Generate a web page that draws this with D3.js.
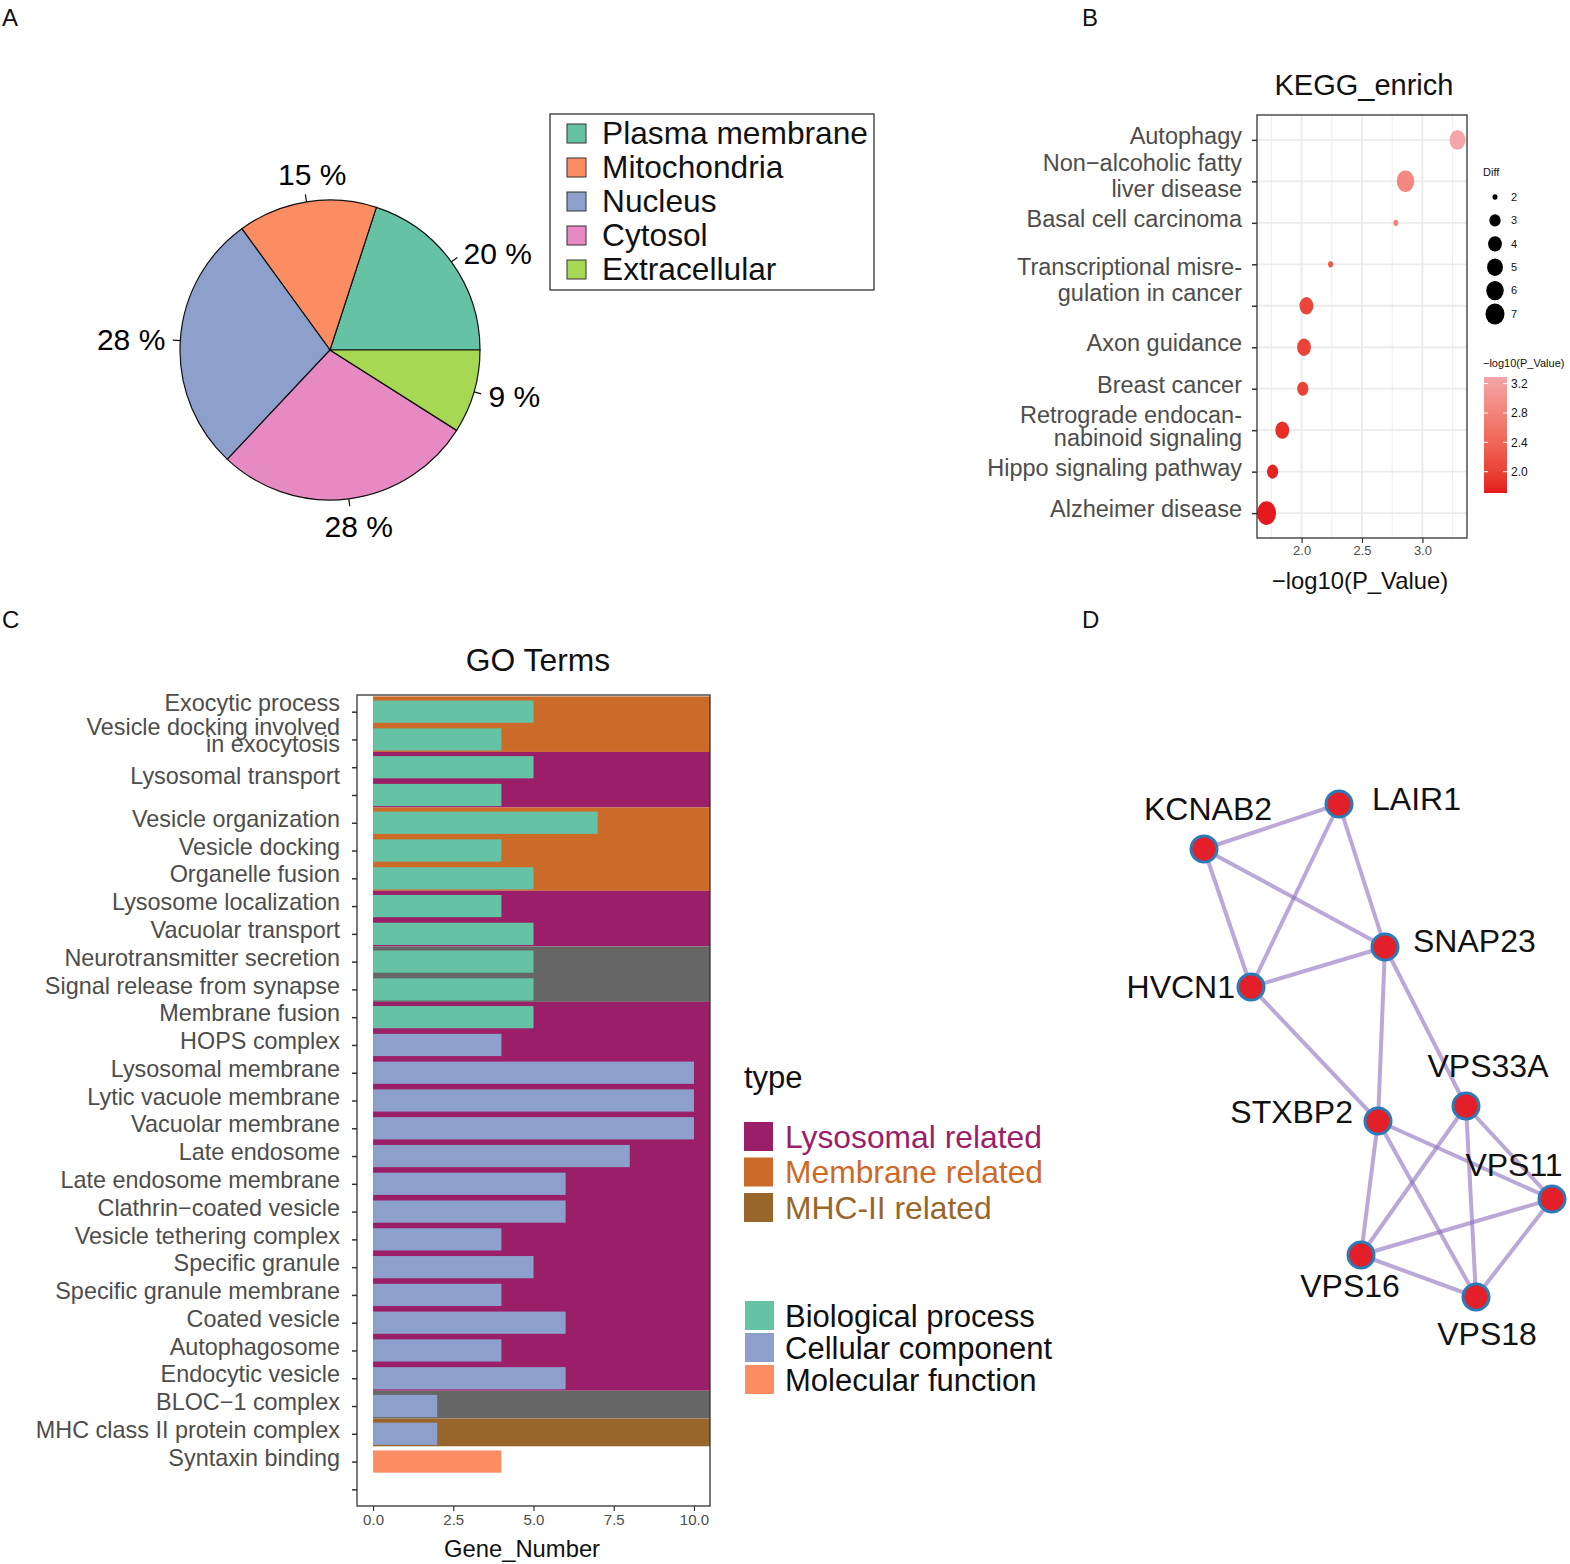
<!DOCTYPE html>
<html>
<head>
<meta charset="utf-8">
<script src="https://cdn.jsdelivr.net/npm/d3@7/dist/d3.min.js"></script>
<style>
  body { margin: 0; background: #fff; }
  text { font-family: "Liberation Sans", Arial, sans-serif; }
</style>
</head>
<body>
<div id="chart"></div>
<script>
/* ---- data: panel A (subcellular location) ---- */
const locNames = ["Plasma membrane", "Mitochondria", "Nucleus", "Cytosol", "Extracellular"];
const locPct = [20, 15, 28, 28, 9];
const locColors = ["#66C2A5", "#FC8D62", "#8DA0CB", "#E78AC3", "#A6D854"];

/* ---- data: panel B (KEGG) ---- */
const keggTerms = [
  ["Autophagy"],
  ["Non\u2212alcoholic fatty", "liver disease"],
  ["Basal cell carcinoma"],
  ["Transcriptional misre-", "gulation in cancer"],
  [],
  ["Axon guidance"],
  ["Breast cancer"],
  ["Retrograde endocan-", "nabinoid signaling"],
  ["Hippo signaling pathway"],
  ["Alzheimer disease"]
];
const keggLogP = [3.29, 2.86, 2.78, 2.24, 2.04, 2.02, 2.01, 1.84, 1.76, 1.71];
const keggDiff = [5, 6, 2, 2, 4, 4, 3, 4, 3, 7];
const keggXTicks = [2.0, 2.5, 3.0];
const diffLegend = [2, 3, 4, 5, 6, 7];
const colorLegendTicks = [2.0, 2.4, 2.8, 3.2];

/* ---- data: panel C (GO terms) ---- */
const goTerms = [
  ["Exocytic process"], ["Vesicle docking involved", "in exocytosis"], ["Lysosomal transport"], [],
  ["Vesicle organization"], ["Vesicle docking"], ["Organelle fusion"], ["Lysosome localization"],
  ["Vacuolar transport"], ["Neurotransmitter secretion"], ["Signal release from synapse"],
  ["Membrane fusion"], ["HOPS complex"], ["Lysosomal membrane"], ["Lytic vacuole membrane"],
  ["Vacuolar membrane"], ["Late endosome"], ["Late endosome membrane"], ["Clathrin\u2212coated vesicle"],
  ["Vesicle tethering complex"], ["Specific granule"], ["Specific granule membrane"],
  ["Coated vesicle"], ["Autophagosome"], ["Endocytic vesicle"], ["BLOC\u22121 complex"],
  ["MHC class II protein complex"], ["Syntaxin binding"], []
];
const goCounts = [5, 4, 5, 4, 7, 4, 5, 4, 5, 5, 5, 5, 4, 10, 10, 10, 8, 6, 6, 4, 5, 4, 6, 4, 6, 2, 2, 4, null];
const goOntology = ["BP", "BP", "BP", "BP", "BP", "BP", "BP", "BP", "BP", "BP", "BP", "BP",
  "CC", "CC", "CC", "CC", "CC", "CC", "CC", "CC", "CC", "CC", "CC", "CC", "CC", "CC", "CC", "MF", null];
const goGroup = ["Membrane", "Membrane", "Lysosomal", "Lysosomal", "Membrane", "Membrane", "Membrane",
  "Lysosomal", "Lysosomal", "Other", "Other", "Lysosomal", "Lysosomal", "Lysosomal", "Lysosomal",
  "Lysosomal", "Lysosomal", "Lysosomal", "Lysosomal", "Lysosomal", "Lysosomal", "Lysosomal",
  "Lysosomal", "Lysosomal", "Lysosomal", "Other", "MHC", null, null];
const goXTicks = [0, 2.5, 5, 7.5, 10];
const groupKeys = ["Lysosomal", "Membrane", "MHC"];
const groupLabels = ["Lysosomal related", "Membrane related", "MHC-II related"];
const ontoKeys = ["BP", "CC", "MF"];
const ontoLabels = ["Biological process", "Cellular component", "Molecular function"];

/* ---- data: panel D (network layout) ---- */
const netNodes = ["KCNAB2", "LAIR1", "SNAP23", "HVCN1", "VPS33A", "STXBP2", "VPS11", "VPS16", "VPS18"];
const netX = [54, 189, 235, 101, 316, 228, 402, 211, 326];
const netY = [89, 44, 187, 227, 346, 361, 439, 495, 537];
const netEdges = [
  ["KCNAB2", "LAIR1"], ["KCNAB2", "SNAP23"], ["KCNAB2", "HVCN1"], ["LAIR1", "HVCN1"],
  ["LAIR1", "SNAP23"], ["HVCN1", "SNAP23"], ["HVCN1", "STXBP2"], ["SNAP23", "STXBP2"],
  ["SNAP23", "VPS33A"], ["STXBP2", "VPS11"], ["STXBP2", "VPS16"], ["STXBP2", "VPS18"],
  ["VPS33A", "VPS16"], ["VPS33A", "VPS18"], ["VPS33A", "VPS11"], ["VPS16", "VPS11"],
  ["VPS16", "VPS18"], ["VPS11", "VPS18"]
];

const W = 1570, H = 1564;
const svg = d3.select("#chart").append("svg").attr("width", W).attr("height", H);
const axisGrey = "#4D4D4D";

/* panel letters */
[["A", 2, 26], ["B", 1082, 26], ["C", 2, 628], ["D", 1082, 628]].forEach(p => {
  svg.append("text").attr("x", p[1]).attr("y", p[2]).text(p[0])
    .attr("font-size", 24).attr("fill", "#111");
});

/* ================= Panel A: pie ================= */
const pieG = svg.append("g").attr("transform", "translate(330,350)");
const R = 150;
const pie = d3.pie().sort(null).value(d => d)
  .startAngle(Math.PI / 2).endAngle(Math.PI / 2 - 2 * Math.PI);
const arcs = pie(locPct);
const arc = d3.arc().innerRadius(0).outerRadius(R);
pieG.selectAll("path.slice").data(arcs).enter().append("path")
  .attr("class", "slice")
  .attr("d", arc)
  .attr("fill", (d, i) => locColors[i])
  .attr("stroke", "#111").attr("stroke-width", 1.2);
arcs.forEach((a, i) => {
  const m = (a.startAngle + a.endAngle) / 2;
  const sx = Math.sin(m), sy = -Math.cos(m);
  pieG.append("line")
    .attr("x1", sx * R).attr("y1", sy * R)
    .attr("x2", sx * R * 1.05).attr("y2", sy * R * 1.05)
    .attr("stroke", "#111").attr("stroke-width", 1.2);
  // like base R pie(): label at 1.1 r, left/right aligned by side
  const ax = sx * R * 1.1, ay = sy * R * 1.1;
  const t = pieG.append("text").text(locPct[i] + " %")
    .attr("font-size", 30).attr("dy", "0.35em");
  if (Math.abs(sx) > 0.5) {
    t.attr("x", ax).attr("y", ay).attr("text-anchor", sx < 0 ? "end" : "start");
  } else {
    t.attr("x", ax + 8).attr("y", ay + sy * 13).attr("text-anchor", "middle");
  }
});

/* pie legend */
const pl = svg.append("g").attr("transform", "translate(550,114)");
pl.append("rect").attr("width", 324).attr("height", 176)
  .attr("fill", "none").attr("stroke", "#333").attr("stroke-width", 1.3);
locNames.forEach((n, i) => {
  const cy = 19 + i * 34;
  pl.append("rect").attr("x", 17).attr("y", cy - 9).attr("width", 19).attr("height", 19)
    .attr("fill", locColors[i]).attr("stroke", "#333").attr("stroke-width", 1);
  pl.append("text").attr("x", 52).attr("y", cy).attr("dy", "0.36em")
    .attr("font-size", 31.7).attr("fill", "#111").text(n);
});

/* ================= Panel B: KEGG dot plot ================= */
const bL = 1257, bR = 1467, bT = 115, bB = 538;
const pExt = d3.extent(keggLogP);
const pPad = (pExt[1] - pExt[0]) * 0.05;
const bx = d3.scaleLinear().domain([pExt[0] - pPad, pExt[1] + pPad]).range([bL, bR]);
const by = d3.scalePoint().domain(d3.range(keggTerms.length)).range([bT, bB]).padding(0.6);
const sizeScale = v => 5 + 14 * Math.sqrt((v - 2) / 5);
const colScale = d3.scaleLinear().domain(pExt).range(["#E41A1C", "#F4A5A8"]).interpolate(d3.interpolateLab);

const bG = svg.append("g");
bG.append("rect").attr("x", bL).attr("y", bT).attr("width", bR - bL).attr("height", bB - bT).attr("fill", "#fff");
// minor grid
const minorX = d3.range(1.75, pExt[1] + pPad, 0.5);
bG.selectAll("line.minx").data(minorX).enter().append("line")
  .attr("x1", d => bx(d)).attr("x2", d => bx(d)).attr("y1", bT).attr("y2", bB)
  .attr("stroke", "#EBEBEB").attr("stroke-width", 0.9);
bG.selectAll("line.majx").data(keggXTicks).enter().append("line")
  .attr("x1", d => bx(d)).attr("x2", d => bx(d)).attr("y1", bT).attr("y2", bB)
  .attr("stroke", "#EBEBEB").attr("stroke-width", 1.8);
bG.selectAll("line.majy").data(by.domain()).enter().append("line")
  .attr("x1", bL).attr("x2", bR).attr("y1", d => by(d)).attr("y2", d => by(d))
  .attr("stroke", "#EBEBEB").attr("stroke-width", 1.8);
// dots
bG.selectAll("ellipse.dot").data(keggLogP).enter().append("ellipse")
  .attr("cx", d => bx(d)).attr("cy", (d, i) => by(i))
  .attr("rx", (d, i) => sizeScale(keggDiff[i]) / 2)
  .attr("ry", (d, i) => sizeScale(keggDiff[i]) / 2 * 1.25)
  .attr("fill", d => colScale(d));
bG.append("rect").attr("x", bL).attr("y", bT).attr("width", bR - bL).attr("height", bB - bT)
  .attr("fill", "none").attr("stroke", "#333").attr("stroke-width", 1.3);
// axes
const byAxis = bG.append("g").attr("transform", `translate(${bL},0)`)
  .call(d3.axisLeft(by).tickSize(5).tickFormat(""));
byAxis.select(".domain").remove();
byAxis.selectAll(".tick line").attr("stroke", "#333").attr("stroke-width", 1.5);
const bxAxis = bG.append("g").attr("transform", `translate(0,${bB})`)
  .call(d3.axisBottom(bx).tickValues(keggXTicks).tickSize(5).tickPadding(3).tickFormat(d3.format(".1f")));
bxAxis.select(".domain").remove();
bxAxis.selectAll(".tick line").attr("stroke", "#333").attr("stroke-width", 1.2);
bxAxis.selectAll(".tick text").attr("font-size", 13).attr("fill", axisGrey)
  .style("font-family", "'Liberation Sans', Arial, sans-serif");
// y labels (multi-line)
const keggAlign = { 1: "bottom", 3: "top" };
keggTerms.forEach((lines, i) => {
  if (!lines.length) return;
  const lh = i === 7 ? 23 : 26, n = lines.length;
  let first;
  if (keggAlign[i] === "bottom") first = by(i) + 7 - (n - 1) * lh;
  else if (keggAlign[i] === "top") first = by(i) + 2;
  else first = by(i) - 4 - (n - 1) * lh / 2;
  const t = bG.append("text").attr("text-anchor", "end").attr("font-size", 23.5).attr("fill", axisGrey);
  lines.forEach((l, k) => {
    t.append("tspan").attr("x", bL - 15).attr("y", first + k * lh).attr("dy", "0.35em").text(l);
  });
});
bG.append("text").attr("x", (bL + bR) / 2 + 2).attr("y", 95).attr("text-anchor", "middle")
  .attr("font-size", 29).attr("fill", "#111").text("KEGG_enrich");
bG.append("text").attr("x", (bL + bR) / 2 - 2).attr("y", 589).attr("text-anchor", "middle")
  .attr("font-size", 23.8).attr("fill", "#111").text("\u2212log10(P_Value)");

// size legend
const sl = svg.append("g");
sl.append("text").attr("x", 1483).attr("y", 176).attr("font-size", 11).attr("fill", "#111").text("Diff");
diffLegend.forEach((v, i) => {
  const cy = 197 + i * 23.4;
  sl.append("ellipse").attr("cx", 1495).attr("cy", cy)
    .attr("rx", sizeScale(v) / 2).attr("ry", sizeScale(v) / 2 * 1.1).attr("fill", "#000");
  sl.append("text").attr("x", 1511).attr("y", cy).attr("dy", "0.35em")
    .attr("font-size", 11).attr("fill", "#111").text(v);
});
// colour legend
const cbT = 377, cbB = 493, cbL = 1484, cbW = 23;
const cy = d3.scaleLinear().domain(pExt).range([cbB, cbT]);
const defs = svg.append("defs");
const grad = defs.append("linearGradient").attr("id", "pgrad")
  .attr("x1", 0).attr("y1", 1).attr("x2", 0).attr("y2", 0);
d3.range(0, 1.001, 0.1).forEach(f => {
  grad.append("stop").attr("offset", f).attr("stop-color", colScale(pExt[0] + f * (pExt[1] - pExt[0])));
});
sl.append("text").attr("x", 1483).attr("y", 367).attr("font-size", 11).attr("fill", "#111").text("\u2212log10(P_Value)");
sl.append("rect").attr("x", cbL).attr("y", cbT).attr("width", cbW).attr("height", cbB - cbT).attr("fill", "url(#pgrad)");
colorLegendTicks.forEach(v => {
  const y = cy(v);
  sl.append("line").attr("x1", cbL).attr("x2", cbL + 4).attr("y1", y).attr("y2", y).attr("stroke", "#fff");
  sl.append("line").attr("x1", cbL + cbW - 4).attr("x2", cbL + cbW).attr("y1", y).attr("y2", y).attr("stroke", "#fff");
  sl.append("text").attr("x", cbL + cbW + 4).attr("y", y).attr("dy", "0.35em")
    .attr("font-size", 12).attr("fill", "#111").text(d3.format(".1f")(v));
});

/* ================= Panel C: GO terms ================= */
const cL = 357, cR = 710, cT = 695, cB = 1506;
const gx = d3.scaleLinear().domain([-0.5, 10.5]).range([cL, cR]);
const gy = d3.scalePoint().domain(d3.range(goTerms.length)).range([cT, cB]).padding(0.6);
const step = gy.step();
const groupColors = { Lysosomal: "#9A1F68", Membrane: "#CC6A28", MHC: "#98662A", Other: "#666666" };
const ontoColors = { BP: "#66C2A5", CC: "#8DA0CB", MF: "#FC8D62" };

const cG = svg.append("g");
// background bands: contiguous runs of the same group
const runs = [];
goGroup.forEach((g, i) => {
  if (!g) return;
  const last = runs[runs.length - 1];
  if (last && last.g === g && last.end === i - 1) last.end = i;
  else runs.push({ g: g, start: i, end: i });
});
cG.selectAll("rect.band").data(runs).enter().append("rect")
  .attr("x", gx(0))
  .attr("y", d => Math.max(cT, gy(d.start) - 0.55 * step))
  .attr("width", cR - gx(0))
  .attr("height", d => gy(d.end) + 0.45 * step - Math.max(cT, gy(d.start) - 0.55 * step))
  .attr("fill", d => groupColors[d.g]);
const barH = step * 0.8;
cG.selectAll("rect.bar").data(goCounts.map((v, i) => ({ v: v, i: i })).filter(d => d.v != null))
  .enter().append("rect")
  .attr("x", gx(0)).attr("y", d => gy(d.i) - barH / 2)
  .attr("width", d => gx(d.v) - gx(0)).attr("height", barH)
  .attr("fill", d => ontoColors[goOntology[d.i]]);
cG.append("rect").attr("x", cL).attr("y", cT).attr("width", cR - cL).attr("height", cB - cT)
  .attr("fill", "none").attr("stroke", "#333").attr("stroke-width", 1.3);
const gyAxis = cG.append("g").attr("transform", `translate(${cL},0)`)
  .call(d3.axisLeft(gy).tickSize(5).tickFormat(""));
gyAxis.select(".domain").remove();
gyAxis.selectAll(".tick line").attr("stroke", "#333").attr("stroke-width", 1.5);
const gxAxis = cG.append("g").attr("transform", `translate(0,${cB})`)
  .call(d3.axisBottom(gx).tickValues(goXTicks).tickSize(5).tickPadding(3).tickFormat(d3.format(".1f")));
gxAxis.select(".domain").remove();
gxAxis.selectAll(".tick line").attr("stroke", "#333").attr("stroke-width", 1.2);
gxAxis.selectAll(".tick text").attr("font-size", 15).attr("fill", axisGrey)
  .style("font-family", "'Liberation Sans', Arial, sans-serif");
const goNudge = { 0: -5, 2: 13 };
goTerms.forEach((lines, i) => {
  if (!lines.length) return;
  const lh = 17, n = lines.length;
  const first = gy(i) - 4 + (goNudge[i] || 0) - (n - 1) * lh / 2;
  const t = cG.append("text").attr("text-anchor", "end").attr("font-size", 23.4).attr("fill", axisGrey);
  lines.forEach((l, k) => {
    t.append("tspan").attr("x", cL - 17).attr("y", first + k * lh).attr("dy", "0.35em").text(l);
  });
});
cG.append("text").attr("x", 538).attr("y", 671).attr("text-anchor", "middle")
  .attr("font-size", 31.8).attr("fill", "#111").text("GO Terms");
cG.append("text").attr("x", 522).attr("y", 1557).attr("text-anchor", "middle")
  .attr("font-size", 23.8).attr("fill", "#111").text("Gene_Number");

// legends
const lg = svg.append("g").attr("transform", "translate(744,0)");
lg.append("text").attr("x", 0).attr("y", 1088).attr("font-size", 31).attr("fill", "#111").text("type");
groupKeys.forEach((k, i) => {
  const y0 = 1122 + i * 35.5;
  lg.append("rect").attr("x", 0).attr("y", y0).attr("width", 29).attr("height", 29).attr("fill", groupColors[k]);
  lg.append("text").attr("x", 41).attr("y", y0 + 14.5).attr("dy", "0.36em")
    .attr("font-size", 31.8).attr("fill", groupColors[k]).text(groupLabels[i]);
});
ontoKeys.forEach((k, i) => {
  const y0 = 1301 + i * 32;
  lg.append("rect").attr("x", 1).attr("y", y0).attr("width", 29).attr("height", 29).attr("fill", ontoColors[k]);
  lg.append("text").attr("x", 41).attr("y", y0 + 14.5).attr("dy", "0.36em")
    .attr("font-size", 31).attr("fill", "#111").text(ontoLabels[i]);
});

/* ================= Panel D: network ================= */
const nx = d3.scaleLinear().domain([0, 400]).range([1150, 1550]);
const ny = d3.scaleLinear().domain([0, 500]).range([760, 1260]);
const nodeIdx = {};
netNodes.forEach((n, i) => { nodeIdx[n] = i; });
const dG = svg.append("g");
dG.selectAll("line.edge").data(netEdges).enter().append("line")
  .attr("x1", d => nx(netX[nodeIdx[d[0]]])).attr("y1", d => ny(netY[nodeIdx[d[0]]]))
  .attr("x2", d => nx(netX[nodeIdx[d[1]]])).attr("y2", d => ny(netY[nodeIdx[d[1]]]))
  .attr("stroke", "rgb(140,110,190)").attr("stroke-opacity", 0.6).attr("stroke-width", 4);
const labelPos = {
  KCNAB2: [4, -41, "middle"], LAIR1: [33, -6, "start"], SNAP23: [28, -7, "start"],
  HVCN1: [-16, -1, "end"], VPS33A: [22, -41, "middle"], STXBP2: [-25, -10, "end"],
  VPS11: [-38, -35, "middle"], VPS16: [-11, 30, "middle"], VPS18: [11, 36, "middle"]
};
netNodes.forEach((n, i) => {
  const x = nx(netX[i]), y = ny(netY[i]);
  dG.append("text").attr("x", x + labelPos[n][0]).attr("y", y + labelPos[n][1]).attr("dy", "0.36em")
    .attr("text-anchor", labelPos[n][2]).attr("font-size", 32).attr("fill", "#111").text(n);
});
dG.selectAll("circle.node").data(netNodes).enter().append("circle")
  .attr("cx", (d, i) => nx(netX[i])).attr("cy", (d, i) => ny(netY[i]))
  .attr("r", 13).attr("fill", "#E3202A").attr("stroke", "#2B7BB9").attr("stroke-width", 3);
</script>
</body>
</html>
